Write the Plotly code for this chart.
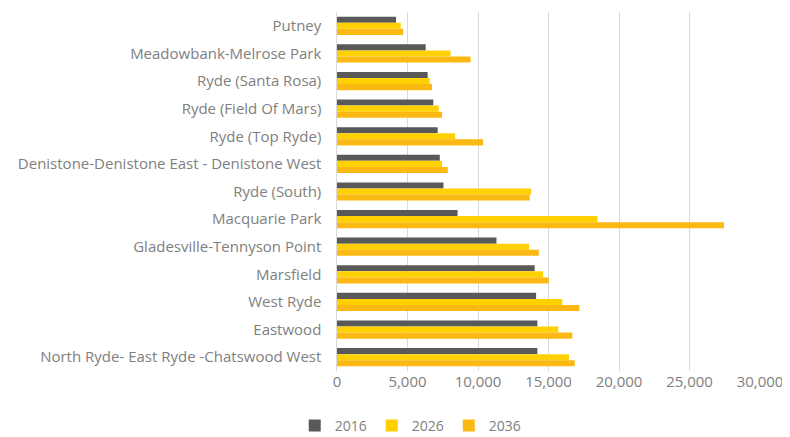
import plotly.graph_objects as go

categories = [
    "Putney",
    "Meadowbank-Melrose Park",
    "Ryde (Santa Rosa)",
    "Ryde (Field Of Mars)",
    "Ryde (Top Ryde)",
    "Denistone-Denistone East - Denistone West",
    "Ryde (South)",
    "Macquarie Park",
    "Gladesville-Tennyson Point",
    "Marsfield",
    "West Ryde",
    "Eastwood",
    "North Ryde- East Ryde -Chatswood West",
]
v2016 = [4190, 6290, 6430, 6830, 7140, 7290, 7550, 8550, 11310, 14020, 14120, 14210, 14210]
v2026 = [4520, 8050, 6570, 7210, 8380, 7450, 13760, 18480, 13620, 14620, 15980, 15690, 16450]
v2036 = [4690, 9480, 6740, 7450, 10360, 7860, 13670, 27440, 14310, 15020, 17190, 16690, 16860]

series = [("2016", v2016, "#595959"), ("2026", v2026, "#FFD100"), ("2036", v2036, "#FDB913")]

fig = go.Figure()
for name, vals, col in series:
    fig.add_trace(go.Bar(y=categories, x=vals, name=name, orientation="h",
                         marker=dict(color=col, line=dict(width=0))))

font_col = "#808080"
fig.update_layout(
    width=782, height=429,
    margin=dict(l=329, r=30, t=4, b=66),
    paper_bgcolor="white", plot_bgcolor="white",
    barmode="group", bargap=0.34, bargroupgap=0,
    font=dict(family="Open Sans, sans-serif", size=15, color=font_col),
    xaxis=dict(range=[0, 30000], tickvals=[0, 5000, 10000, 15000, 20000, 25000, 30000],
               tickformat=",", showgrid=True, gridcolor="#d9d9d9", gridwidth=1,
               zeroline=False, showline=False, ticks="", automargin=False,
               tickfont=dict(size=15, color=font_col)),
    yaxis=dict(autorange="reversed", showline=True, linecolor="#d9d9d9", linewidth=1,
               ticks="", ticksuffix="   ", automargin=False,
               tickfont=dict(size=15, color=font_col)),
    legend=dict(orientation="h", xref="container", yref="container",
                x=0.515, xanchor="center", y=0.026, yanchor="middle",
                font=dict(size=14, color=font_col), itemwidth=30, traceorder="normal"),
    showlegend=True,
)

fig.write_html("out.html")
